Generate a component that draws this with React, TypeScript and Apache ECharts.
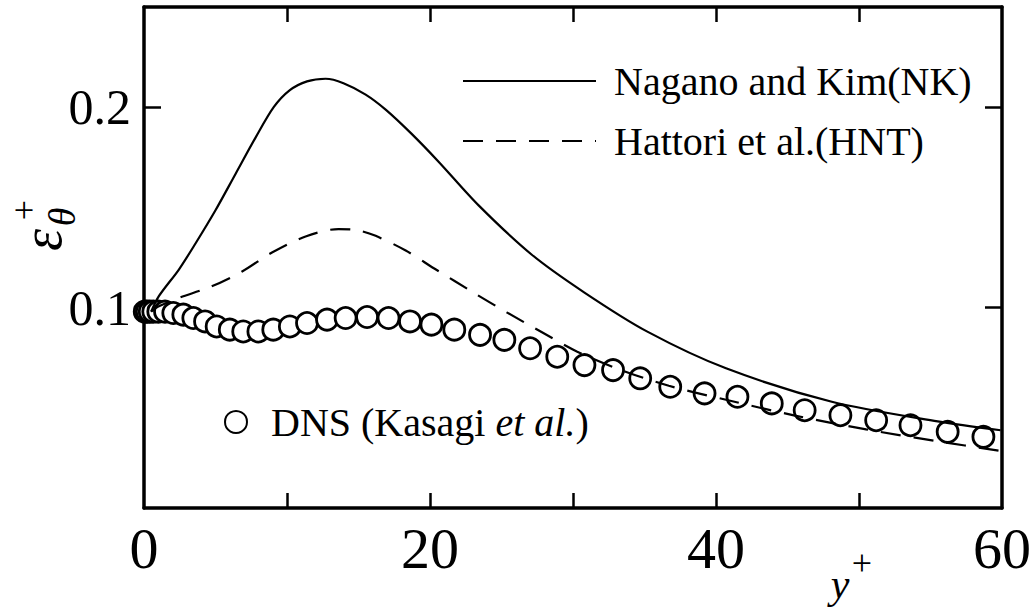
import React, { useEffect, useRef } from "react";
import * as echarts from "echarts";

// ---- data ----
const nkX = [0.5, 1.05, 2.44, 3.6, 5.0, 6.4, 7.8, 9.07, 10.2, 11.4, 12.7, 13.95, 15.5, 16.9, 18.7, 20.6, 23.4, 27.1, 30.8, 35.2, 40.7, 48.1, 55.5, 59.9];
const nkY = [0.098, 0.1058, 0.119, 0.132, 0.1486, 0.1667, 0.1848, 0.2, 0.2085, 0.2129, 0.2142, 0.212, 0.2063, 0.1988, 0.1868, 0.1728, 0.151, 0.1265, 0.1075, 0.088, 0.0697, 0.053, 0.0432, 0.0388];

const hntX = [0.5, 1.0, 2.3, 4.7, 6.86, 8.95, 11.3, 13.6, 15.0, 16.2, 18.3, 20.3, 23.2, 25.4, 27.8, 30.3, 33.3, 36.7, 40.7, 45.6, 50.5, 55.5, 59.9];
const hntY = [0.098, 0.1005, 0.1045, 0.1105, 0.118, 0.1275, 0.1355, 0.1392, 0.1385, 0.1358, 0.1285, 0.1195, 0.1068, 0.0975, 0.0878, 0.078, 0.069, 0.061, 0.054, 0.046, 0.0392, 0.0333, 0.0285];

const dnsX = [0.05, 0.2, 0.4, 0.65, 1.0, 1.47, 2.05, 2.75, 3.45, 4.27, 5.08, 6.0, 6.94, 8.0, 9.04, 10.2, 11.4, 12.8, 14.1, 15.6, 17.1, 18.6, 20.1, 21.7, 23.5, 25.2, 27.0, 28.9, 30.8, 32.8, 34.7, 36.8, 39.2, 41.5, 43.9, 46.2, 48.7, 51.2, 53.6, 56.2, 58.7];
const dnsY = [0.098, 0.098, 0.098, 0.098, 0.098, 0.098, 0.0973, 0.0965, 0.0948, 0.0931, 0.0906, 0.089, 0.0881, 0.0881, 0.089, 0.0906, 0.0923, 0.094, 0.0948, 0.0953, 0.0948, 0.0931, 0.0915, 0.089, 0.0864, 0.0839, 0.0797, 0.0755, 0.0713, 0.0688, 0.0647, 0.0605, 0.0572, 0.0555, 0.0522, 0.0488, 0.0463, 0.0438, 0.0413, 0.038, 0.0355];

const xTickValues = [10, 20, 30, 40, 50];
const xLabelValues = [0, 20, 40, 60];
const yTickValues = [0.1, 0.2];

const seriesNames = ["Nagano and Kim(NK)", "Hattori et al.(HNT)", "DNS (Kasagi et al.)"];

const FONT = '"Liberation Serif", "Times New Roman", serif';

function pairs(xs: number[], ys: number[]) {
  return xs.map((x, i) => [x, ys[i]]);
}

export default function App() {
  const ref = useRef<HTMLDivElement>(null);
  useEffect(() => {
    if (!ref.current) return;
    const chart = echarts.init(ref.current, null, { renderer: "svg" });
    const axisLine = { show: true, onZero: false, lineStyle: { color: "#000", width: 3.5 } };
    const tickStyle = { color: "#000", width: 2.5 };
    const lineLegend = (name: string, top: number) => ({
      data: [name],
      orient: "vertical",
      left: 462, top,
      itemWidth: 133, itemHeight: 50, itemGap: 0, padding: 0,
      selectedMode: false,
      itemStyle: { color: "rgba(0,0,0,0)", borderWidth: 0, opacity: 0 },
      textStyle: { color: "#000", fontSize: 40, fontFamily: FONT, padding: [0, 0, 0, 13] },
    });
    const option: any = {
      animation: false,
      backgroundColor: "#fff",
      grid: { left: 144, right: 29, top: 7, bottom: 103, outerBoundsMode: "none" },
      xAxis: [
        {
          type: "value", min: 0, max: 60, position: "bottom",
          axisLine,
          axisTick: { show: true, inside: true, length: 15, customValues: xTickValues, lineStyle: tickStyle },
          axisLabel: { show: true, customValues: xLabelValues, margin: 11, color: "#000", fontSize: 58, fontFamily: FONT, formatter: (v: number) => String(v) },
          splitLine: { show: false },
        },
        {
          type: "value", min: 0, max: 60, position: "top",
          axisLine,
          axisTick: { show: true, inside: true, length: 15, customValues: xTickValues, lineStyle: tickStyle },
          axisLabel: { show: false },
          splitLine: { show: false },
        },
      ],
      yAxis: [
        {
          type: "value", min: 0, max: 0.25, position: "left",
          axisLine,
          axisTick: { show: true, inside: true, length: 17, customValues: yTickValues, lineStyle: tickStyle },
          axisLabel: { show: true, customValues: yTickValues, margin: 13, color: "#000", fontSize: 50, fontFamily: FONT, formatter: (v: number) => v.toFixed(1) },
          splitLine: { show: false },
        },
        {
          type: "value", min: 0, max: 0.25, position: "right",
          axisLine,
          axisTick: { show: true, inside: true, length: 17, customValues: yTickValues, lineStyle: tickStyle },
          axisLabel: { show: false },
          splitLine: { show: false },
        },
      ],
      legend: [
        lineLegend(seriesNames[0], 61),
        lineLegend(seriesNames[1], 121),
        {
          data: [seriesNames[2]],
          left: 224, top: 402,
          itemWidth: 60, itemHeight: 22, padding: 0,
          selectedMode: false,
          formatter: () => "{n|DNS (Kasagi }{i|et al.}{n|)}",
          textStyle: {
            color: "#000", fontSize: 40, fontFamily: FONT, lineHeight: 22,
            rich: {
              n: { color: "#000", fontSize: 40, fontFamily: FONT, lineHeight: 22 },
              i: { color: "#000", fontSize: 40, fontFamily: FONT, fontStyle: "italic", lineHeight: 22 },
            },
          },
        },
      ],
      series: [
        {
          name: seriesNames[2], type: "scatter", data: pairs(dnsX, dnsY),
          symbol: "circle", symbolSize: 21, clip: false, z: 2,
          itemStyle: { color: "#fff", borderColor: "#000", borderWidth: 2.8, opacity: 1 },
          emphasis: { disabled: true },
        },
        {
          name: seriesNames[0], type: "line", data: pairs(nkX, nkY),
          symbol: "none", showSymbol: false, smooth: 0.3, z: 3,
          lineStyle: { color: "#000", width: 2.2, type: "solid" },
          itemStyle: { color: "#000" },
          emphasis: { disabled: true },
        },
        {
          name: seriesNames[1], type: "line", data: pairs(hntX, hntY),
          symbol: "none", showSymbol: false, smooth: 0.3, z: 3,
          lineStyle: { color: "#000", width: 2.2, type: [20, 13] },
          itemStyle: { color: "#000" },
          emphasis: { disabled: true },
        },
      ],
      graphic: [
        {
          type: "group", x: 42, y: 240, rotation: Math.PI / 2,
          children: [
            { type: "text", x: 0, y: 0, style: { text: "ε", fontSize: 56, fontFamily: FONT, fontStyle: "italic", fill: "#000", align: "center", verticalAlign: "middle" } },
            { type: "text", x: 30, y: -18, style: { text: "+", fontSize: 36, fontFamily: FONT, fill: "#000", align: "center", verticalAlign: "middle" } },
            { type: "text", x: 23, y: 20, style: { text: "θ", fontSize: 38, fontFamily: FONT, fontStyle: "italic", fill: "#000", align: "center", verticalAlign: "middle" } },
          ],
        },
        { type: "text", x: 840, y: 584, style: { text: "y", fontSize: 42, fontFamily: FONT, fontStyle: "italic", fill: "#000", align: "center", verticalAlign: "middle" } },
        { type: "text", x: 862, y: 563, style: { text: "+", fontSize: 36, fontFamily: FONT, fill: "#000", align: "center", verticalAlign: "middle" } },
      ],
    };
    chart.setOption(option);
    return () => chart.dispose();
  }, []);
  return (
    <div
      ref={ref}
      style={{ position: "fixed", left: 0, top: 0, width: 1031, height: 611, background: "#fff" }}
    />
  );
}
